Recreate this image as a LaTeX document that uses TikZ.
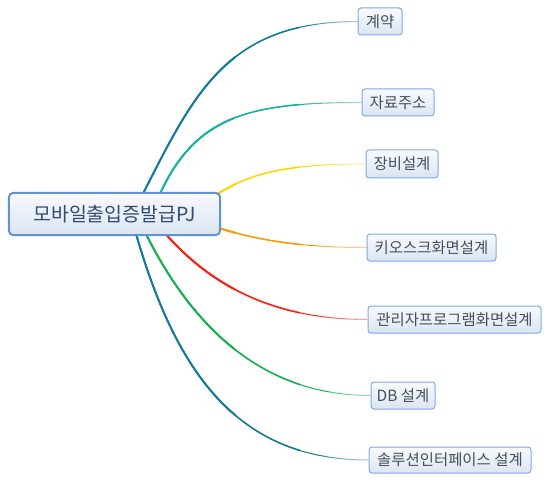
\documentclass[tikz,border=0pt]{standalone}
\usepackage{fontspec}
\setmainfont{Noto Sans CJK KR}
\usetikzlibrary{calc,backgrounds}
\definecolor{cTealDark}{RGB}{20,122,150}
\definecolor{cTeal}{RGB}{24,178,160}
\definecolor{cYellow}{RGB}{255,214,0}
\definecolor{cOrange}{RGB}{255,152,0}
\definecolor{cRed}{RGB}{255,30,12}
\definecolor{cGreen}{RGB}{20,176,80}
\definecolor{rootBorder}{RGB}{96,146,212}
\definecolor{leafBorder}{RGB}{128,170,226}
\definecolor{boxBottom}{RGB}{218,229,243}
\definecolor{boxTop}{RGB}{248,250,253}
\definecolor{rootText}{RGB}{52,74,112}
\definecolor{leafText}{RGB}{72,78,90}
\tikzset{
  rootbox/.style={draw=rootBorder, line width=2bp, rounded corners=4bp,
    top color=boxTop, bottom color=boxBottom, minimum width=211bp,
    minimum height=42bp, inner sep=0pt, text=rootText,
    font=\fontsize{19.5}{22}\selectfont},
  leafbox/.style={draw=leafBorder, line width=1bp, rounded corners=3bp,
    top color=boxTop, bottom color=boxBottom, minimum height=27bp,
    inner sep=0pt, text=leafText, font=\fontsize{15.5}{18}\selectfont},
}
\newcommand\mmbranch[5]{%
  \foreach \w/\c in {1/560,1.5/300,2/235}{%
    \begin{scope}
      \clip (0,0) rectangle (\c,482);
      \draw[#1, line width=\w bp] ($(root.center)+(#2,0)$) .. controls #3 and #4 .. (#5.west);
    \end{scope}}%
  \foreach \i in {1,...,5}{%
    \fill[white, fill opacity=0.16] ($(#5.west)+(-10*\i,-4)$) rectangle ($(#5.west)+(0,4)$);}%
}
\begin{document}
\begin{tikzpicture}[x=1bp,y=-1bp]
\useasboundingbox (0,0) rectangle (549,482);
\node[rootbox] (root) at (114.5,214) {모바일출입증발급PJ};
\node[leafbox, minimum width=44bp] (l1) at (380,21.5) {계약};
\node[leafbox, minimum width=72bp] (l2) at (398,102.5) {자료주소};
\node[leafbox, minimum width=72bp, minimum height=28bp] (l3) at (402,164) {장비설계};
\node[leafbox, minimum width=129bp] (l4) at (431.5,247.5) {키오스크화면설계};
\node[leafbox, minimum width=173bp] (l5) at (454.5,319.5) {관리자프로그램화면설계};
\node[leafbox, minimum width=64bp] (l6) at (403,395.5) {DB 설계};
\node[leafbox, minimum width=162bp, minimum height=26bp] (l7) at (450,460) {솔루션인터페이스 설계};
\begin{scope}[on background layer]
  \mmbranch{cTealDark}{18}{(190,104)}{(218,21.5)}{l1}
  \mmbranch{cTeal}{37}{(188,118)}{(240,102.5)}{l2}
  \mmbranch{cYellow}{70.5}{(235,184)}{(250,164)}{l3}
  \mmbranch{cOrange}{60.5}{(230,232)}{(270,247.5)}{l4}
  \mmbranch{cRed}{35}{(195,275)}{(260,319.5)}{l5}
  \mmbranch{cGreen}{22}{(186,324)}{(260,395.5)}{l6}
  \mmbranch{cTealDark}{16}{(172,370)}{(235,460)}{l7}
\end{scope}
\end{tikzpicture}
\end{document}
